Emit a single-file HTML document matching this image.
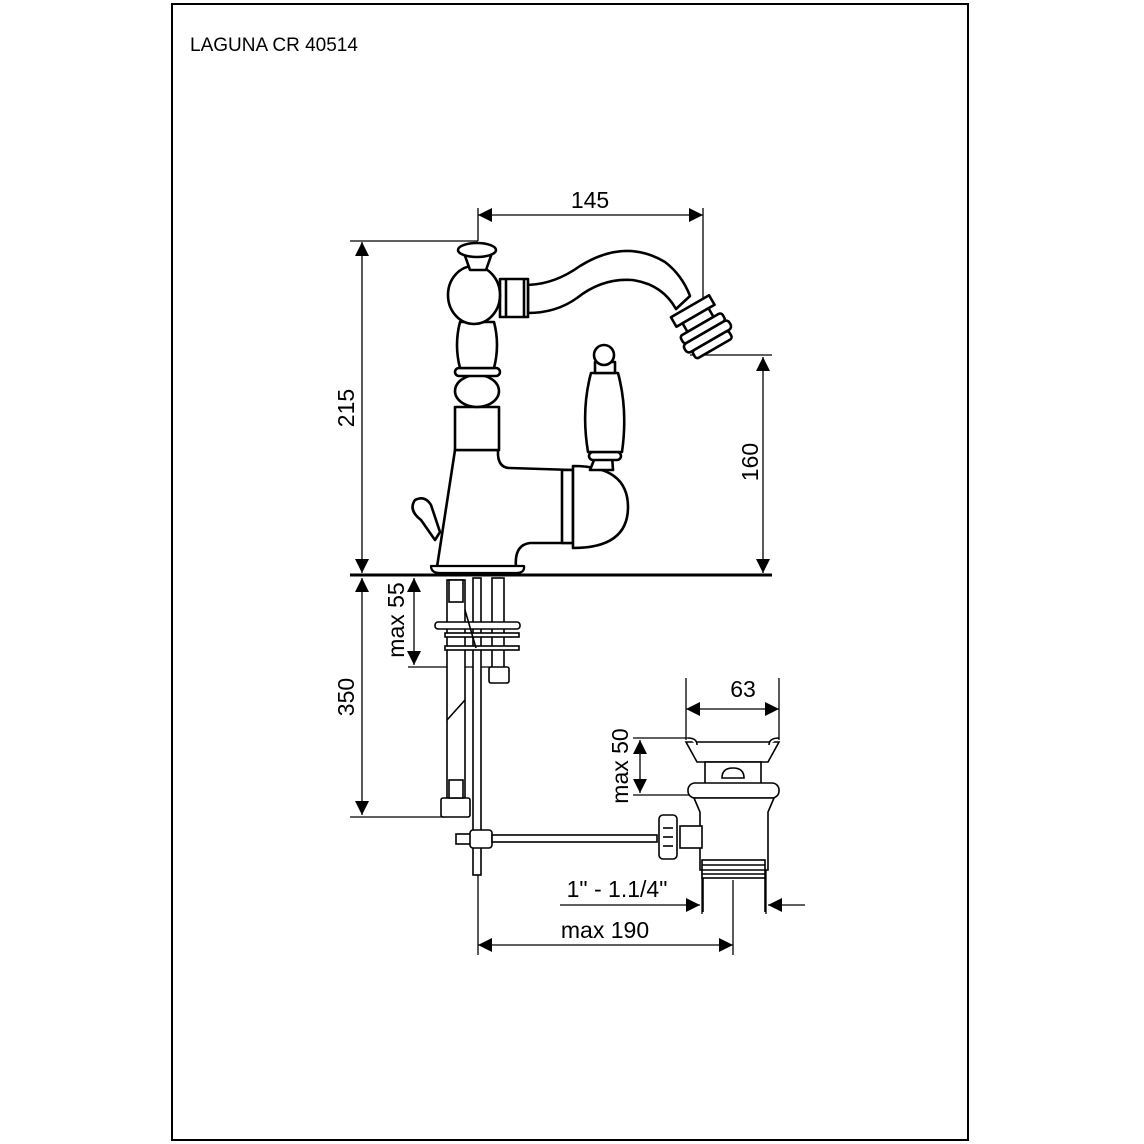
<!DOCTYPE html>
<html><head><style>
html,body{margin:0;padding:0;background:#fff;}
svg{display:block;}
text{font-family:"Liberation Sans",Arial,sans-serif;fill:#000;}
</style></head><body>
<svg width="1144" height="1144" viewBox="0 0 1144 1144" xmlns="http://www.w3.org/2000/svg">
<defs>
<marker id="a" viewBox="0 0 10 10" refX="10" refY="5" markerWidth="20" markerHeight="14" markerUnits="userSpaceOnUse" orient="auto-start-reverse"><path d="M0,0 L10,5 L0,10 z" fill="#000"/></marker>
</defs>
<rect x="172" y="4" width="796" height="1136" fill="none" stroke="#000" stroke-width="2"/>
<text x="190" y="51" font-size="19">LAGUNA CR 40514</text>

<g fill="none" stroke="#000" stroke-width="1.3">
<line x1="478" y1="208" x2="478" y2="241"/>
<line x1="703" y1="208" x2="703" y2="330"/>
<line x1="350" y1="241" x2="478" y2="241"/>
<line x1="690" y1="355" x2="772" y2="355"/>
<line x1="350" y1="817" x2="445" y2="817"/>
<line x1="408" y1="667" x2="500" y2="667"/>
<line x1="686" y1="678" x2="686" y2="740"/>
<line x1="779" y1="678" x2="779" y2="740"/>
<line x1="633" y1="738" x2="688" y2="738"/>
<line x1="633" y1="795" x2="690" y2="795"/>
<line x1="733" y1="880" x2="733" y2="955"/>
<line x1="478" y1="840" x2="478" y2="955"/>
<line x1="702" y1="870" x2="702" y2="914"/>
<line x1="766" y1="870" x2="766" y2="914"/>
<line x1="478" y1="215" x2="703" y2="215" marker-start="url(#a)" marker-end="url(#a)"/>
<line x1="362" y1="242" x2="362" y2="573" marker-start="url(#a)" marker-end="url(#a)"/>
<line x1="763" y1="357" x2="763" y2="573" marker-start="url(#a)" marker-end="url(#a)"/>
<line x1="362" y1="578" x2="362" y2="815" marker-start="url(#a)" marker-end="url(#a)"/>
<line x1="414" y1="578" x2="414" y2="665" marker-start="url(#a)" marker-end="url(#a)"/>
<line x1="686" y1="709" x2="779" y2="709" marker-start="url(#a)" marker-end="url(#a)"/>
<line x1="640" y1="740" x2="640" y2="793" marker-start="url(#a)" marker-end="url(#a)"/>
<line x1="560" y1="905" x2="700" y2="905" marker-end="url(#a)"/>
<line x1="805" y1="905" x2="768" y2="905" marker-end="url(#a)"/>
<line x1="478" y1="945" x2="733" y2="945" marker-start="url(#a)" marker-end="url(#a)"/>
</g>

<g font-size="23">
<text x="590" y="208" text-anchor="middle">145</text>
<text transform="translate(354,408) rotate(-90)" text-anchor="middle">215</text>
<text transform="translate(758,462) rotate(-90)" text-anchor="middle">160</text>
<text transform="translate(354,697) rotate(-90)" text-anchor="middle">350</text>
<text transform="translate(404,620) rotate(-90)" text-anchor="middle">max 55</text>
<text x="743" y="697" text-anchor="middle">63</text>
<text transform="translate(628,766) rotate(-90)" text-anchor="middle">max 50</text>
<text x="617" y="897" text-anchor="middle">1" - 1.1/4"</text>
<text x="605" y="938" text-anchor="middle">max 190</text>
</g>

<g fill="#fff" stroke="#000" stroke-width="2.6" stroke-linejoin="round">
<line x1="350" y1="575" x2="772" y2="575" stroke-width="3"/>
<path d="M455,450 L437,567 L516,567 Q514,545 530,543 L573,543 L573,470 L510,468 Q499,468 498,455 L498,450 Z"/>
<path d="M562,470 L573,470 L573,543 L562,543 Z"/>
<path d="M573,466 Q628,466 628,507 Q628,548 573,548 Z"/>
<path d="M431,566 Q431,573 440,573 L516,573 Q525,573 524,566 Z" stroke-width="2.2"/>
<rect x="455" y="407" width="44" height="43"/>
<ellipse cx="477" cy="391" rx="22" ry="16"/>
<rect x="455" y="368" width="45" height="8" rx="4"/>
<path d="M460,322 L494,322 Q500,345 494,368 L460,368 Q454,345 460,322 Z"/>
<path d="M528,285 Q555,284 580,266 Q625,238 665,262 Q682,275 690,296 L676,309 Q662,284 632,280 Q602,278 577,298 Q556,313 528,313 Z"/>
<rect x="500" y="279" width="28" height="38"/>
<line x1="506" y1="279" x2="506" y2="317"/><line x1="524" y1="279" x2="524" y2="317"/>
<ellipse cx="474" cy="295" rx="26" ry="29"/>
<path d="M464,253 L492,253 L486,270 L470,270 Z"/>
<ellipse cx="477" cy="250" rx="19" ry="7"/>
<g transform="translate(702,327) rotate(-30)">
<rect x="-22" y="-24" width="44" height="11"/>
<rect x="-15" y="-13" width="30" height="10"/>
<rect x="-24" y="-3" width="48" height="9" rx="3"/>
<rect x="-26" y="6" width="52" height="10" rx="4"/>
<rect x="-21" y="16" width="42" height="9" rx="3"/>
</g>
<path d="M596,455 L590,470 L613,470 L612,455 Z"/>
<rect x="589" y="452" width="32" height="8" rx="4"/>
<path d="M591,373 L618,373 Q628,410 622,452 L588,452 Q581,410 591,373 Z"/>
<rect x="595" y="362" width="20" height="11"/>
<circle cx="604" cy="355" r="10"/>
<path d="M440,532 L431,505 Q425,495 415,500 Q408,510 421,520 L435,540 Z"/>
</g>

<g fill="#fff" stroke="#000" stroke-width="1.6">
<rect x="447" y="580" width="18" height="218"/>
<rect x="441" y="798" width="29" height="19" rx="2"/>
<rect x="449" y="780" width="14" height="18"/>
<rect x="449" y="580" width="14" height="22"/>
<line x1="447" y1="720" x2="465" y2="700"/>
<rect x="492" y="578" width="12" height="92"/>
<rect x="489" y="667" width="20" height="16" rx="2"/>
<rect x="473" y="578" width="8" height="297"/>
<rect x="435" y="622" width="85" height="7" rx="3"/>
<rect x="445" y="633" width="74" height="4"/>
<rect x="445" y="646" width="74" height="4"/>
<line x1="465" y1="610" x2="476" y2="648"/>
<rect x="456" y="834" width="16" height="10"/>
<rect x="470" y="830" width="22" height="18" rx="3"/>
<rect x="492" y="835" width="165" height="7"/>
<path d="M686,742 L779,742 L768,762 L697,762 Z"/>
<path d="M688,738 Q697,738 697,745 M779,738 Q769,738 769,745"/>
<rect x="705" y="762" width="56" height="22"/>
<path d="M722,778 Q722,768 733,768 Q744,768 744,778 Z"/>
<rect x="688" y="783" width="91" height="15" rx="7"/>
<path d="M694,798 L774,798 L768,812 L768,870 L700,870 L700,812 Z"/>
<rect x="702" y="860" width="63" height="18"/>
<line x1="702" y1="865" x2="765" y2="865"/><line x1="702" y1="870" x2="765" y2="870"/><line x1="702" y1="874" x2="765" y2="874"/>
<rect x="680" y="826" width="22" height="22"/>
<rect x="659" y="815" width="18" height="44" rx="4"/>
<line x1="663" y1="828" x2="673" y2="828"/><line x1="663" y1="837" x2="673" y2="837"/><line x1="663" y1="846" x2="673" y2="846"/>
<line x1="703" y1="878" x2="703" y2="912"/><line x1="765" y1="878" x2="765" y2="912"/>
</g>
</svg>
</body></html>
